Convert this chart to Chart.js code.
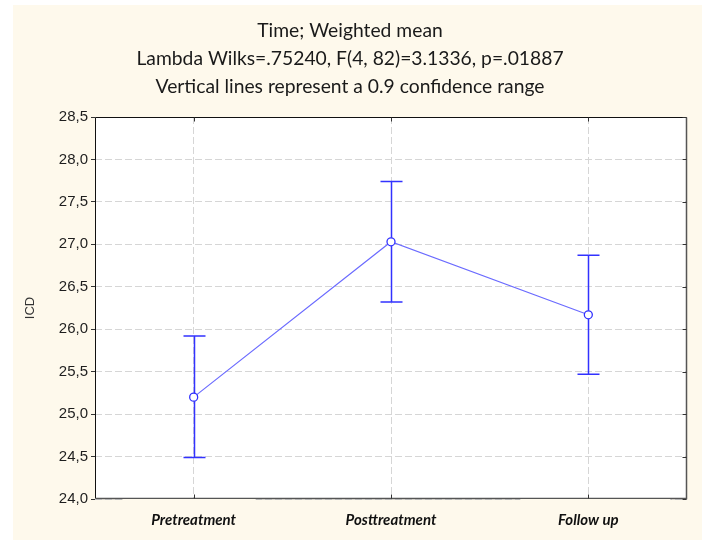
<!DOCTYPE html>
<html>
<head>
<meta charset="utf-8">
<script src="https://cdn.jsdelivr.net/npm/chart.js@4.4.1/dist/chart.umd.min.js"></script>
<style>
  html, body { margin: 0; padding: 0; background: #ffffff; }
  #wrap { position: absolute; left: 13px; top: 5px; width: 689px; height: 535px; background: #fef9ec; }
</style>
</head>
<body>
<div id="wrap"><canvas id="chart"></canvas></div>
<script>
// values
const categories = ["Pretreatment", "Posttreatment", "Follow up"];
const means = [25.20, 27.03, 26.17];
const lowerCI = [24.49, 26.32, 25.47];
const upperCI = [25.92, 27.74, 26.87];
const titleLines = [
    "Time; Weighted mean",
    "Lambda Wilks=.75240, F(4, 82)=3.1336, p=.01887",
    "Vertical lines represent a 0.9 confidence range"
];
const yTitle = "ICD";

const barColor = "#3232ff";
const lineColor = "#6b6bff";
const cream = "#fef9ec";

// white plot background
const plotBg = {
    id: "plotBg",
    beforeDraw(chart) {
        const {ctx, chartArea: a} = chart;
        ctx.save();
        ctx.fillStyle = "#ffffff";
        ctx.fillRect(a.left, a.top, a.right - a.left, a.bottom - a.top);
        ctx.restore();
    }
};

// vertical confidence bars with caps, drawn under the points
const errorBars = {
    id: "errorBars",
    beforeDatasetsDraw(chart) {
        const ctx = chart.ctx;
        const x = chart.scales.x, y = chart.scales.y;
        ctx.save();
        ctx.strokeStyle = barColor;
        ctx.lineWidth = 1.5;
        categories.forEach((c, i) => {
            const px = Math.round(x.getPixelForValue(i)) + 0.5;
            const lo = y.getPixelForValue(lowerCI[i]);
            const hi = y.getPixelForValue(upperCI[i]);
            ctx.beginPath();
            ctx.moveTo(px, lo); ctx.lineTo(px, hi);
            ctx.moveTo(px - 11, lo); ctx.lineTo(px + 11, lo);
            ctx.moveTo(px - 11, hi); ctx.lineTo(px + 11, hi);
            ctx.stroke();
        });
        ctx.restore();
    }
};

// frame, inner ticks and the label boxes that cut the bottom axis
const frame = {
    id: "frame",
    afterDatasetsDraw(chart) {
        const {ctx, chartArea: a} = chart;
        const x = chart.scales.x, y = chart.scales.y;
        const L = a.left + 0.5, R = Math.round(a.right) - 0.5, T = a.top + 0.5, B = Math.round(a.bottom) - 0.5;
        ctx.save();
        ctx.lineWidth = 1;
        ctx.strokeStyle = "#111";
        ctx.beginPath();
        ctx.moveTo(L, B); ctx.lineTo(L, T); ctx.lineTo(R, T);
        ctx.stroke();
        ctx.strokeStyle = "#555";
        ctx.lineWidth = 1.5;
        ctx.beginPath();
        ctx.moveTo(R, T); ctx.lineTo(R, B); ctx.lineTo(L, B);
        ctx.stroke();
        ctx.lineWidth = 1;
        ctx.strokeStyle = "#333";
        ctx.beginPath();
        y.ticks.forEach(t => {
            const py = Math.round(y.getPixelForValue(t.value)) + 0.5;
            ctx.moveTo(R - 4, py); ctx.lineTo(R, py);
        });
        categories.forEach((c, i) => {
            const px = Math.round(x.getPixelForValue(i)) + 0.5;
            ctx.moveTo(px, T); ctx.lineTo(px, T + 4);
            ctx.moveTo(px, B); ctx.lineTo(px, B - 4);
        });
        ctx.stroke();
        // label background boxes (first and last label)
        ctx.fillStyle = cream;
        [[0, -71, 62], [2, -68, 82]].forEach(([i, l, r]) => {
            const px = x.getPixelForValue(i);
            ctx.fillRect(px + l, B + 0.5, r - l, 30);
        });
        ctx.restore();
    }
};

new Chart(document.getElementById("chart"), {
    type: "line",
    data: {
        labels: categories,
        datasets: [{
            data: means,
            borderColor: lineColor,
            borderWidth: 1.2,
            pointRadius: 4,
            pointBorderWidth: 1.3,
            pointBorderColor: barColor,
            pointBackgroundColor: "#ffffff",
            tension: 0
        }]
    },
    options: {
        responsive: true,
        maintainAspectRatio: false,
        animation: false,
        layout: { padding: { left: 0, right: 15, top: 0, bottom: 0 } },
        plugins: {
            legend: { display: false },
            tooltip: { enabled: false },
            title: {
                display: true,
                text: titleLines,
                color: "#1a1a1a",
                font: { family: "Lato", size: 19.3, weight: "normal", lineHeight: "28px" },
                padding: { top: 12, bottom: 16 }
            }
        },
        scales: {
            x: {
                offset: true,
                grid: {
                    color: "#d6d6d6",
                    drawTicks: false
                },
                border: { display: false, dash: [7, 3] },
                ticks: {
                    z: 1,
                    padding: 12,
                    color: "#111",
                    font: { family: "Lato", size: 15, weight: "bold", style: "italic" }
                },
                afterFit(s) { s.height = 41; }
            },
            y: {
                min: 24,
                max: 28.5,
                grid: {
                    color: "#d6d6d6",
                    tickLength: 4,
                    tickColor: "#333",
                    tickBorderDash: []
                },
                border: { display: false, dash: [7, 3] },
                ticks: {
                    stepSize: 0.5,
                    padding: 3,
                    color: "#1e1e1e",
                    font: { family: "Liberation Sans", size: 15 },
                    callback: v => v.toFixed(1).replace(".", ",")
                },
                title: {
                    display: true,
                    text: yTitle,
                    color: "#333",
                    font: { family: "Liberation Sans", size: 13 },
                    padding: { top: 10, bottom: 0 }
                },
                afterFit(s) { s.width = 82; }
            }
        }
    },
    plugins: [plotBg, errorBars, frame]
});
</script>
</body>
</html>
